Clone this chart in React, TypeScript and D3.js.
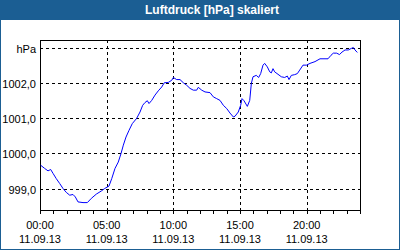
import React from "react";
import * as d3 from "d3";

const hours: number[] = [
  0.05, 0.35, 0.6, 0.8, 0.975, 1.22, 1.48, 1.725, 1.97, 2.23, 2.475, 2.65, 2.85, 3.225, 3.55, 3.85, 4.22, 4.6, 4.85,
  5.175, 5.38, 5.625, 5.87, 6.075, 6.25, 6.45, 6.675, 6.92, 7.25, 7.5, 7.7, 7.875, 8.05, 8.175, 8.38, 8.625, 8.87, 9.13,
  9.32, 9.62, 9.88, 10.0, 10.25, 10.5, 10.75, 11.0, 11.25, 11.5, 11.75, 11.87, 12.13, 12.375, 12.75, 13.0, 13.25, 13.5,
  13.75, 14.0, 14.25, 14.5, 14.625, 14.87, 15.05, 15.15, 15.3, 15.55, 15.73, 15.85, 15.975, 16.22, 16.4, 16.55, 16.725,
  16.85, 17.05, 17.23, 17.35, 17.475, 17.6, 17.85, 18.1, 18.35, 18.55, 18.675, 18.85, 19.1, 19.3, 19.48, 19.725, 19.99,
  20.25, 20.625, 21.0, 21.6, 21.825, 22.0, 22.25, 22.46, 22.65, 22.875, 23.12, 23.38, 23.5, 23.625, 23.8,
];

const pressure: number[] = [
  999.66, 999.57, 999.5, 999.54, 999.43, 999.28, 999.14, 999.0, 998.89, 998.81, 998.83, 998.76, 998.62, 998.6, 998.6,
  998.72, 998.84, 998.93, 999.0, 999.07, 999.28, 999.57, 999.75, 999.99, 1000.23, 1000.46, 1000.65, 1000.84, 1000.99,
  1001.17, 1001.36, 1001.44, 1001.49, 1001.41, 1001.5, 1001.65, 1001.77, 1001.88, 1002.0, 1002.01, 1002.07, 1002.15,
  1002.09, 1002.09, 1002.0, 1001.93, 1001.84, 1001.79, 1001.79, 1001.87, 1001.79, 1001.74, 1001.72, 1001.6, 1001.55,
  1001.5, 1001.36, 1001.27, 1001.14, 1001.03, 1001.05, 1001.17, 1001.36, 1001.55, 1001.49, 1001.33, 1001.5, 1001.98,
  1002.17, 1002.21, 1002.15, 1002.26, 1002.5, 1002.55, 1002.45, 1002.31, 1002.28, 1002.4, 1002.31, 1002.24, 1002.17,
  1002.15, 1002.19, 1002.09, 1002.21, 1002.23, 1002.26, 1002.36, 1002.5, 1002.5, 1002.55, 1002.6, 1002.68, 1002.68,
  1002.78, 1002.84, 1002.84, 1002.8, 1002.87, 1002.93, 1002.93, 1002.98, 1003.0, 1002.93, 1002.86,
];

const yTicks: number[] = [999, 1000, 1001, 1002, 1003];
const yTickLabels: string[] = ["999,0", "1000,0", "1001,0", "1002,0", "hPa"];
const xMajor: number[] = [0, 5, 10, 15, 20];
const xTimeLabels: string[] = ["00:00", "05:00", "10:00", "15:00", "20:00"];
const dateLabel = "11.09.13";
const title = "Luftdruck [hPa] skaliert";

export default function App() {
  const W = 400;
  const H = 250;
  const left = 40;
  const right = 360;
  const top = 40;
  const bottom = 210;

  const x = d3.scaleLinear().domain([0, 24]).range([left, right]);
  const y = d3.scaleLinear().domain([998.376, 1003.199]).range([bottom + 0.5, top + 0.5]);

  const line = d3
    .line<number>()
    .x((_, i) => x(hours[i]))
    .y((d) => y(d));

  const minor = d3.range(0, 25);
  const font = "'Liberation Sans', Arial, sans-serif";

  return (
    <svg width={W} height={H} style={{ position: "absolute", left: 0, top: 0 }} fontFamily={font}>
      <rect x={0} y={0} width={W} height={H} fill="#ffffff" />
      <rect x={0} y={0} width={W} height={20} fill="#1b5e93" />
      <rect x={0.5} y={0.5} width={W - 1} height={H - 1} fill="none" stroke="#1b5e93" />
      <text x={212} y={14} fill="#ffffff" fontSize={12} fontWeight="bold" textAnchor="middle">
        {title}
      </text>

      {yTicks.map((t) => (
        <line
          key={"gy" + t}
          x1={left}
          x2={right}
          y1={Math.round(y(t)) + 0.5}
          y2={Math.round(y(t)) + 0.5}
          stroke="#000"
          strokeDasharray="3,3"
          shapeRendering="crispEdges"
        />
      ))}
      {xMajor.slice(1).map((t) => (
        <line
          key={"gx" + t}
          x1={Math.round(x(t)) + 0.5}
          x2={Math.round(x(t)) + 0.5}
          y1={top}
          y2={bottom}
          stroke="#000"
          strokeDasharray="3,3"
          shapeRendering="crispEdges"
        />
      ))}

      <rect
        x={left + 0.5}
        y={top + 0.5}
        width={right - left}
        height={bottom - top}
        fill="none"
        stroke="#000"
        shapeRendering="crispEdges"
      />
      {minor.map((t) => (
        <line
          key={"mt" + t}
          x1={Math.round(x(t)) + 0.5}
          x2={Math.round(x(t)) + 0.5}
          y1={bottom}
          y2={bottom + 4}
          stroke="#000"
          shapeRendering="crispEdges"
        />
      ))}

      <path d={line(pressure) || ""} fill="none" stroke="#0000ff" strokeWidth={1} />

      {yTicks.map((t, i) => (
        <text key={"yl" + t} x={36} y={Math.round(y(t)) + 4.5} fontSize={11} textAnchor="end" fill="#000">
          {yTickLabels[i]}
        </text>
      ))}
      {xMajor.map((t, i) => (
        <g key={"xl" + t}>
          <text x={x(t)} y={228.5} fontSize={11} textAnchor="middle" fill="#000">
            {xTimeLabels[i]}
          </text>
          <text x={x(t)} y={243} fontSize={11} textAnchor="middle" fill="#000">
            {dateLabel}
          </text>
        </g>
      ))}
    </svg>
  );
}
